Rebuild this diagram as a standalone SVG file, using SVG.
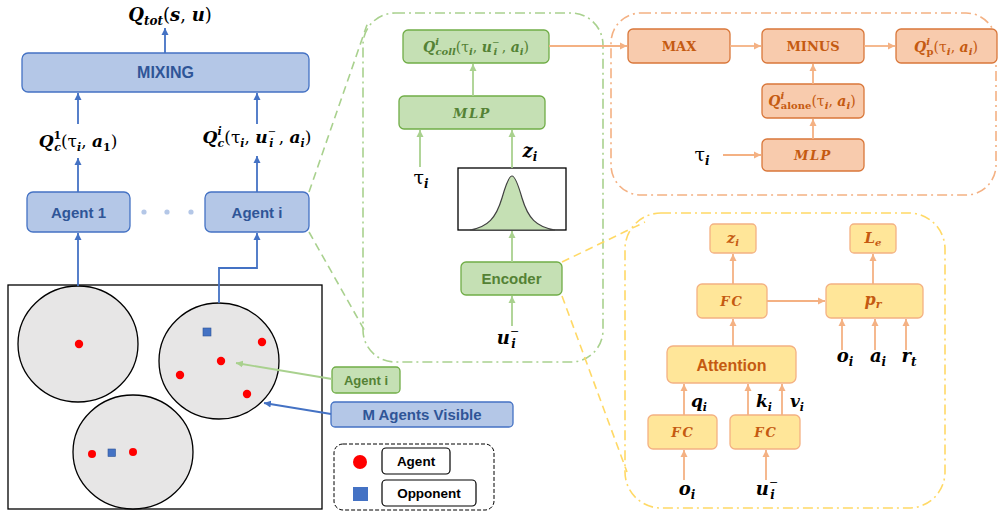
<svg xmlns="http://www.w3.org/2000/svg" width="998" height="519" viewBox="0 0 998 519">
<defs>
<style>
.m{font-family:"DejaVu Serif","Liberation Serif",serif;font-weight:bold;font-style:italic;fill:#000}
.up{font-style:normal;font-weight:normal}
.sb{font-family:"Liberation Sans",Arial,sans-serif;font-weight:bold}
.blue{fill:#b4c7e7;stroke:#4472c4;stroke-width:1.3}
.bt{fill:#2f5597}
.green{fill:#c5e0b4;stroke:#70ad47;stroke-width:1.3}
.gt{fill:#548235}
.org{fill:#f8cbad;stroke:#d9773a;stroke-width:1.3}
.ot{fill:#c55a11}
.yel{fill:#ffe699;stroke:#f4b183;stroke-width:1.3}
.ab{stroke:#4472c4;stroke-width:1.8;fill:none;marker-end:url(#mb)}
.ag{stroke:#a9d18e;stroke-width:1.8;fill:none;marker-end:url(#mg)}
.ao{stroke:#f4b183;stroke-width:1.8;fill:none;marker-end:url(#mo)}
.circ{fill:#e7e6e6;stroke:#000;stroke-width:1.3}
.dot{fill:#ff0000}
.sq{fill:#4472c4;stroke:#2f5597;stroke-width:0.6}
</style>
<marker id="mb" markerUnits="userSpaceOnUse" markerWidth="8" markerHeight="8" refX="7" refY="4" orient="auto"><path d="M0,0.5 L7,4 L0,7.5 z" fill="#4472c4"/></marker>
<marker id="mg" markerUnits="userSpaceOnUse" markerWidth="8" markerHeight="8" refX="7" refY="4" orient="auto"><path d="M0,0.5 L7,4 L0,7.5 z" fill="#a9d18e"/></marker>
<marker id="mo" markerUnits="userSpaceOnUse" markerWidth="8" markerHeight="8" refX="7" refY="4" orient="auto"><path d="M0,0.5 L7,4 L0,7.5 z" fill="#f4b183"/></marker>
</defs>
<rect width="998" height="519" fill="#fff"/>

<!-- zoom frames -->
<g id="frames" fill="none">
<rect x="363" y="13" width="240" height="349" rx="32" stroke="#a9d18e" stroke-width="1.6" stroke-dasharray="10,4,2,4"/>
<rect x="611" y="13" width="385" height="182" rx="30" stroke="#f4b183" stroke-width="1.6" stroke-dasharray="10,4,2,4"/>
<rect x="625" y="213" width="320" height="295" rx="36" stroke="#ffd966" stroke-width="1.6" stroke-dasharray="10,4,2,4"/>
<path d="M309,192 L368,22 M309,232 L366,333" stroke="#a9d18e" stroke-width="1.6" stroke-dasharray="8,5"/>
<path d="M562,262 L645,222 M562,296 L627,472" stroke="#ffd966" stroke-width="1.6" stroke-dasharray="8,5"/>
</g>

<!-- left: mixing network -->
<g id="qtot"><text class="m" x="170" y="21" text-anchor="middle" font-size="18">Q<tspan font-size="12" dy="4">tot</tspan><tspan class="up" dy="-4">(</tspan>s<tspan class="up">, </tspan>u<tspan class="up">)</tspan></text></g>
<g id="mixing"><rect class="blue" x="22" y="53" width="287" height="39" rx="6"/><text class="sb bt" x="165.5" y="78" text-anchor="middle" font-size="16">MIXING</text></g>
<g id="qc1"><text class="m" x="78" y="147" text-anchor="middle" font-size="17">Q<tspan font-size="11" dy="-8" font-style="normal">1</tspan><tspan font-size="11" dx="-7" dy="12">c</tspan><tspan class="up" dy="-4">(τ</tspan><tspan font-size="11" dy="4">i</tspan><tspan class="up" dy="-4">, </tspan>a<tspan font-size="11" dy="4" font-style="normal">1</tspan><tspan class="up" dy="-4">)</tspan></text></g>
<g id="qci"><text class="m" x="257" y="143" text-anchor="middle" font-size="17">Q<tspan font-size="11" dy="-8">i</tspan><tspan font-size="11" dx="-4" dy="12">c</tspan><tspan class="up" dy="-4">(τ</tspan><tspan font-size="11" dy="4">i</tspan><tspan class="up" dy="-4">, </tspan>u<tspan font-size="10" class="up" dy="-8">−</tspan><tspan font-size="11" dx="-7" dy="12">i</tspan><tspan class="up" dy="-4"> , </tspan>a<tspan font-size="11" dy="4">i</tspan><tspan class="up" dy="-4">)</tspan></text></g>
<g id="agent1"><rect class="blue" x="27" y="192" width="103" height="40" rx="6"/><text class="sb bt" x="78.5" y="218" text-anchor="middle" font-size="15">Agent 1</text></g>
<g id="agenti"><rect class="blue" x="205" y="192" width="104" height="40" rx="6"/><text class="sb bt" x="257" y="218" text-anchor="middle" font-size="15">Agent i</text></g>
<g id="ellipsis" fill="#b4c7e7"><circle cx="144" cy="212" r="2.6"/><circle cx="167" cy="212" r="2.6"/><circle cx="191" cy="212" r="2.6"/></g>

<!-- environment -->
<g id="env">
<rect x="8" y="285" width="314" height="224" fill="#fff" stroke="#000" stroke-width="1.3"/>
<ellipse class="circ" cx="78" cy="344" rx="60" ry="58"/>
<ellipse class="circ" cx="219" cy="361" rx="60" ry="58"/>
<ellipse class="circ" cx="133" cy="452" rx="60" ry="57"/>
<circle class="dot" cx="79" cy="344" r="4.2"/>
<rect class="sq" x="203" y="328" width="8" height="8"/>
<circle class="dot" cx="262" cy="342" r="4.2"/>
<circle class="dot" cx="221" cy="361" r="4.2"/>
<circle class="dot" cx="180" cy="375" r="4.2"/>
<circle class="dot" cx="247" cy="394" r="4.2"/>
<circle class="dot" cx="92" cy="454" r="4"/>
<rect class="sq" x="108" y="449" width="7.5" height="7.5"/>
<circle class="dot" cx="133" cy="452" r="4"/>
</g>
<g id="agenti-tag"><rect class="green" x="332" y="367" width="68" height="26" rx="4"/><text class="sb gt" x="366" y="385" text-anchor="middle" font-size="13">Agent i</text></g>
<g id="visible"><rect class="blue" x="331" y="402" width="182" height="25" rx="4"/><text class="sb bt" x="422" y="420" text-anchor="middle" font-size="15">M Agents Visible</text></g>
<g id="legend">
<rect x="334" y="444" width="160" height="66" rx="9" fill="none" stroke="#000" stroke-width="1" stroke-dasharray="4,2"/>
<circle class="dot" cx="360" cy="462" r="7"/>
<rect x="353" y="487" width="15" height="14" fill="#4472c4"/>
<rect x="382" y="448" width="68" height="26" rx="4" fill="#fff" stroke="#000" stroke-width="1.2"/>
<text class="sb" x="416" y="466" text-anchor="middle" font-size="13.5">Agent</text>
<rect x="382" y="480" width="94" height="26" rx="4" fill="#fff" stroke="#000" stroke-width="1.2"/>
<text class="sb" x="429" y="498" text-anchor="middle" font-size="13.5">Opponent</text>
</g>

<!-- green: agent network -->
<g id="qcoll"><rect class="green" x="403" y="30" width="146" height="33" rx="5"/><text class="m" x="476" y="52" text-anchor="middle" font-size="14" style="fill:#548235">Q<tspan font-size="10" dy="-7">i</tspan><tspan font-size="10" dx="-3.5" dy="10">coll</tspan><tspan class="up" dy="-3">(τ</tspan><tspan font-size="10" dy="3">i</tspan><tspan class="up" dy="-3">, </tspan>u<tspan font-size="9" class="up" dy="-7">−</tspan><tspan font-size="10" dx="-6" dy="10">i</tspan><tspan class="up" dy="-3"> , </tspan>a<tspan font-size="10" dy="3">i</tspan><tspan class="up" dy="-3">)</tspan></text></g>
<g id="mlp-g"><rect class="green" x="399" y="96" width="146" height="33" rx="5"/><text class="m" x="472" y="118" text-anchor="middle" font-size="13" letter-spacing="1.5" style="fill:#548235">MLP</text></g>
<g id="gauss"><rect x="458" y="168" width="108" height="62" fill="#fff" stroke="#000" stroke-width="1.3"/><path d="M470,230 C488,227 496,218 502,198 C506,184 509,176 512,176 C515,176 518,184 522,198 C528,218 536,227 555,230 Z" fill="#c5e0b4" stroke="#404040" stroke-width="1.2"/></g>
<g id="encoder"><rect class="green" x="461" y="262" width="101" height="33" rx="5"/><text class="sb gt" x="511.5" y="284" text-anchor="middle" font-size="15">Encoder</text></g>
<g id="lbl-green">
<text class="m" x="421" y="184" text-anchor="middle" font-size="19"><tspan class="up">τ</tspan><tspan font-size="12" dy="4">i</tspan></text>
<text class="m" x="530" y="157" text-anchor="middle" font-size="18">z<tspan font-size="12" dy="4">i</tspan></text>
<text class="m" x="508" y="344" text-anchor="middle" font-size="18">u<tspan font-size="11" class="up" dy="-9">−</tspan><tspan font-size="12" dx="-8" dy="13">i</tspan></text>
</g>

<!-- orange: penalty -->
<g id="max"><rect class="org" x="628" y="29" width="102" height="34" rx="5"/><text class="m up" x="679" y="51" text-anchor="middle" font-size="13" style="font-weight:bold;fill:#c55a11">MAX</text></g>
<g id="minus"><rect class="org" x="762" y="29" width="102" height="34" rx="5"/><text class="m up" x="813" y="51" text-anchor="middle" font-size="13" style="font-weight:bold;fill:#c55a11">MINUS</text></g>
<g id="qp"><rect class="org" x="896" y="29" width="101" height="34" rx="5"/><text class="m" x="946" y="52" text-anchor="middle" font-size="14" style="fill:#c55a11">Q<tspan font-size="10" dy="-7">i</tspan><tspan font-size="10" dx="-3.5" dy="10" style="font-style:normal">p</tspan><tspan class="up" dy="-3">(τ</tspan><tspan font-size="10" dy="3">i</tspan><tspan class="up" dy="-3">, </tspan>a<tspan font-size="10" dy="3">i</tspan><tspan class="up" dy="-3">)</tspan></text></g>
<g id="qalone"><rect class="org" x="762" y="84" width="102" height="34" rx="5"/><text class="m" x="812" y="106" text-anchor="middle" font-size="14" style="fill:#c55a11">Q<tspan font-size="10" dy="-7">i</tspan><tspan font-size="10" dx="-3.5" dy="10" style="font-style:normal">alone</tspan><tspan class="up" dy="-3">(τ</tspan><tspan font-size="10" dy="3">i</tspan><tspan class="up" dy="-3">, </tspan>a<tspan font-size="10" dy="3">i</tspan><tspan class="up" dy="-3">)</tspan></text></g>
<g id="mlp-o"><rect class="org" x="762" y="139" width="102" height="32" rx="5"/><text class="m" x="813" y="160" text-anchor="middle" font-size="13" letter-spacing="1.5" style="fill:#c55a11">MLP</text></g>
<g id="lbl-orange"><text class="m" x="702" y="161" text-anchor="middle" font-size="19"><tspan class="up">τ</tspan><tspan font-size="12" dy="4">i</tspan></text></g>

<!-- yellow: encoder detail -->
<g id="zi"><rect class="yel" x="710" y="224" width="46" height="29" rx="4"/><text class="m" x="733" y="243" text-anchor="middle" font-size="15" style="fill:#c55a11">z<tspan font-size="10" dy="3">i</tspan></text></g>
<g id="le"><rect class="yel" x="850" y="224" width="46" height="29" rx="4"/><text class="m" x="873" y="243" text-anchor="middle" font-size="15" style="fill:#c55a11">L<tspan font-size="10" dy="3">e</tspan></text></g>
<g id="fc-top"><rect class="yel" x="697" y="284" width="70" height="34" rx="5"/><text class="m" x="732" y="306" text-anchor="middle" font-size="13" letter-spacing="2" style="fill:#c55a11">FC</text></g>
<g id="pr"><rect class="yel" x="826" y="284" width="97" height="34" rx="5"/><text class="m" x="873" y="305" text-anchor="middle" font-size="16" style="fill:#c55a11">p<tspan font-size="11" dy="3">r</tspan></text></g>
<g id="attention"><rect class="yel" x="667" y="346" width="129" height="37" rx="6"/><text class="sb ot" x="731.5" y="371" text-anchor="middle" font-size="16">Attention</text></g>
<g id="fc-q"><rect class="yel" x="648" y="415" width="69" height="34" rx="5"/><text class="m" x="683" y="437" text-anchor="middle" font-size="13" letter-spacing="2" style="fill:#c55a11">FC</text></g>
<g id="fc-kv"><rect class="yel" x="730" y="415" width="70" height="34" rx="5"/><text class="m" x="766" y="437" text-anchor="middle" font-size="13" letter-spacing="2" style="fill:#c55a11">FC</text></g>
<g id="lbl-yellow">
<text class="m" x="699" y="407" text-anchor="middle" font-size="17">q<tspan font-size="11" dy="4">i</tspan></text>
<text class="m" x="764" y="407" text-anchor="middle" font-size="17">k<tspan font-size="11" dy="4">i</tspan></text>
<text class="m" x="797" y="407" text-anchor="middle" font-size="17">v<tspan font-size="11" dy="4">i</tspan></text>
<text class="m" x="687" y="495" text-anchor="middle" font-size="18">o<tspan font-size="12" dy="4">i</tspan></text>
<text class="m" x="767" y="495" text-anchor="middle" font-size="18">u<tspan font-size="11" class="up" dy="-9">−</tspan><tspan font-size="12" dx="-8" dy="13">i</tspan></text>
<text class="m" x="845" y="362" text-anchor="middle" font-size="18">o<tspan font-size="12" dy="4">i</tspan></text>
<text class="m" x="878" y="362" text-anchor="middle" font-size="18">a<tspan font-size="12" dy="4">i</tspan></text>
<text class="m" x="909" y="362" text-anchor="middle" font-size="18">r<tspan font-size="12" dy="4">t</tspan></text>
</g>

<!-- connectors -->
<g id="connectors">
<path class="ab" d="M165,53 V28"/>
<path class="ab" d="M78,124 V93"/>
<path class="ab" d="M257,124 V93"/>
<path class="ab" d="M78,192 V158"/>
<path class="ab" d="M257,192 V156"/>
<path class="ab" d="M78,286 V233"/>
<path class="ab" d="M219,303 V268 H257 V233"/>
<path class="ab" d="M331,414 L264,403"/>
<path class="ag" d="M332,379 L236,363"/>
<path class="ag" d="M473,96 V64"/>
<path class="ag" d="M420,167 V130"/>
<path class="ag" d="M512,168 V130"/>
<path class="ag" d="M512,262 V231"/>
<path class="ag" d="M512,326 V296"/>
<path class="ao" d="M549,46 H627"/>
<path class="ao" d="M730,46 H761"/>
<path class="ao" d="M864,46 H895"/>
<path class="ao" d="M813,84 V64"/>
<path class="ao" d="M813,139 V119"/>
<path class="ao" d="M723,155 H761"/>
<path class="ao" d="M733,284 V254"/>
<path class="ao" d="M873,284 V254"/>
<path class="ao" d="M733,346 V319"/>
<path class="ao" d="M767,301 H825"/>
<path class="ao" d="M684,415 V384"/>
<path class="ao" d="M748,415 V384"/>
<path class="ao" d="M782,415 V384"/>
<path class="ao" d="M684,480 V450"/>
<path class="ao" d="M766,480 V450"/>
<path class="ao" d="M842,350 V319"/>
<path class="ao" d="M875,350 V319"/>
<path class="ao" d="M906,350 V319"/>
</g>
</svg>
